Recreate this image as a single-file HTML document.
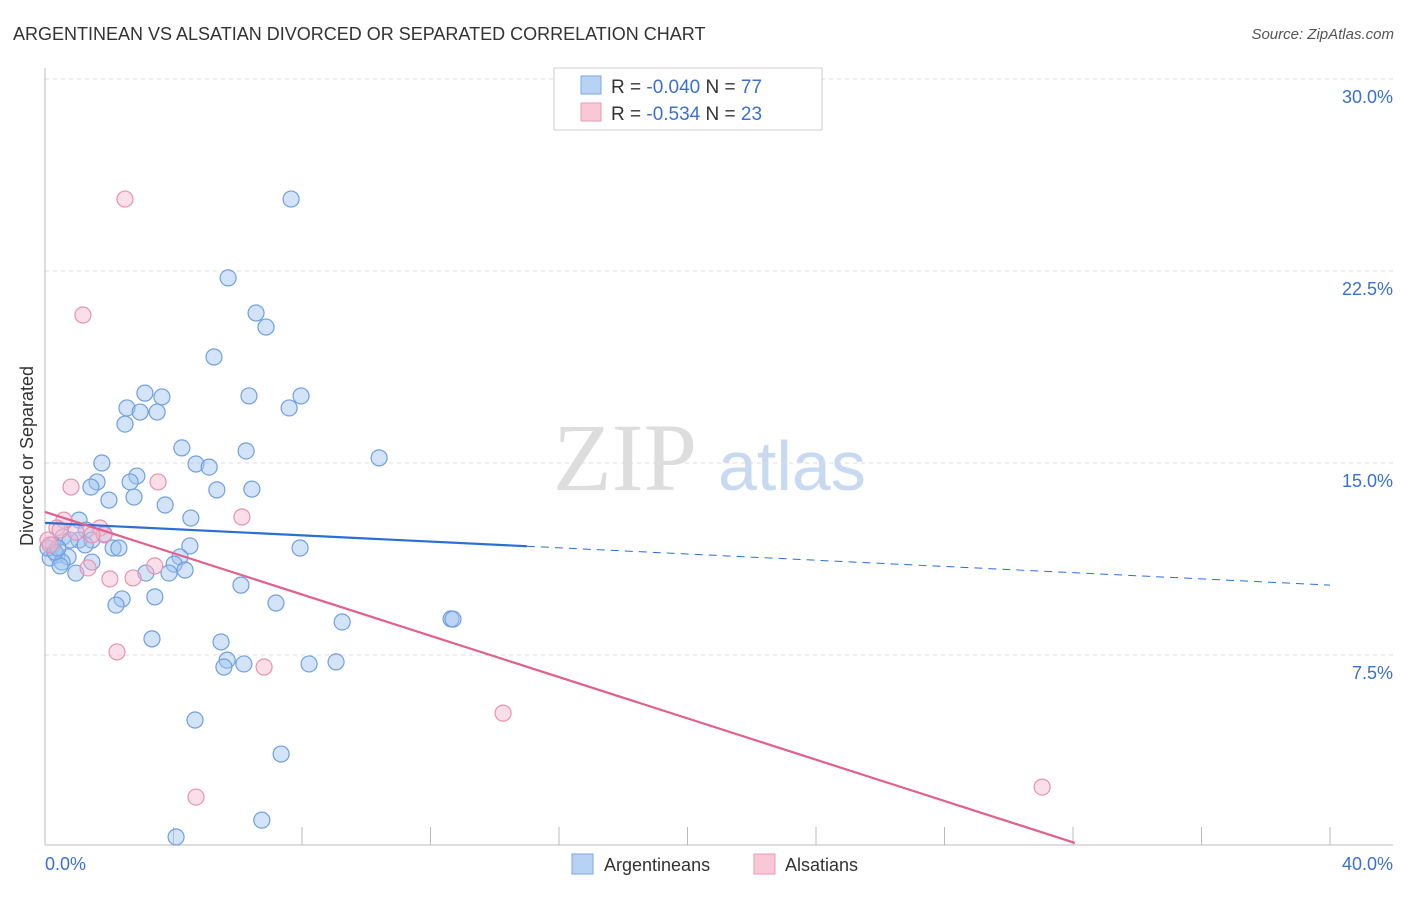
<!DOCTYPE html>
<html><head><meta charset="utf-8"><style>
body{margin:0;background:#fff;font-family:"Liberation Sans",sans-serif}
</style></head><body>
<svg width="1406" height="892" xmlns="http://www.w3.org/2000/svg" style="font-family:'Liberation Sans',sans-serif">
<text x="13" y="40" font-size="18" fill="#333">ARGENTINEAN VS ALSATIAN DIVORCED OR SEPARATED CORRELATION CHART</text>
<text x="1394" y="39" font-size="15" fill="#555" text-anchor="end" font-style="italic">Source: ZipAtlas.com</text>
<g>
<text x="553" y="490" font-size="96" fill="#ddd" font-family="Liberation Serif,serif">ZIP</text>
<text x="718" y="490" font-size="70" fill="#c8daf2">atlas</text>
</g>
<g id="grid"></g>
<line x1="45" y1="68" x2="45" y2="845" stroke="#bbb"/>
<line x1="45" y1="845" x2="1393" y2="845" stroke="#bbb"/>
<g id="xticks"></g>
<text x="45" y="870" font-size="18" fill="#3a70d0">0.0%</text>
<text x="1393" y="870" font-size="18" fill="#3a70d0" text-anchor="end">40.0%</text>
<text transform="translate(33,456) rotate(-90)" font-size="18" fill="#333" text-anchor="middle">Divorced or Separated</text>
<g id="pts"></g>
<g id="lines"></g>
<g>
<rect x="554" y="68" width="268" height="62" fill="#fff" stroke="#ccc"/>
<rect x="581" y="76" width="20" height="18" fill="#b8d2f4" stroke="#7aa6e0"/>
<rect x="581" y="103" width="20" height="18" fill="#f8c8d6" stroke="#e898b4"/>
<text x="611" y="93" font-size="19" fill="#333">R = <tspan fill="#3a70d0">-0.040</tspan>   N = <tspan fill="#3a70d0">77</tspan></text>
<text x="611" y="120" font-size="19" fill="#333">R =  <tspan fill="#3a70d0">-0.534</tspan>   N = <tspan fill="#3a70d0">23</tspan></text>
</g>
<g>
<rect x="572" y="854" width="21" height="20" fill="#b8d2f4" stroke="#7aa6e0"/>
<text x="604" y="871" font-size="18" fill="#333">Argentineans</text>
<rect x="754" y="854" width="21" height="20" fill="#f8c8d6" stroke="#e898b4"/>
<text x="785" y="871" font-size="18" fill="#333">Alsatians</text>
</g>
</svg>
<script>
const yTicks=[7.5,15,22.5,30];
const blueX=[7.66,5.70,6.57,6.88,5.26,3.11,3.64,6.35,7.97,2.55,2.96,3.49,7.60,2.49,4.26,6.26,10.40,1.77,4.70,5.11,2.86,1.62,2.65,1.43,5.35,6.44,1.99,2.77,3.74,1.06,4.54,1.28,1.84,0.56,1.06,1.46,0.25,2.12,2.30,4.51,7.94,0.37,0.72,4.20,0.16,0.53,1.46,4.02,0.47,0.96,3.14,3.86,4.36,6.10,3.42,2.40,2.21,7.19,12.64,9.25,3.33,5.48,5.67,5.57,6.19,8.22,9.06,4.67,7.35,6.75,4.08,0.09,0.31,0.78,1.25,0.40,12.7];
const blueY=[25.31,22.23,20.86,20.31,19.14,17.73,17.58,17.62,17.62,17.15,16.99,16.99,17.15,16.52,15.59,15.47,15.20,15.0,14.96,14.84,14.49,14.26,14.26,14.06,13.95,13.98,13.55,13.67,13.36,12.77,12.85,12.38,12.23,12.11,11.99,11.99,11.80,11.68,11.68,11.76,11.68,11.41,11.33,11.33,11.29,11.13,11.13,11.05,10.98,10.70,10.70,10.70,10.82,10.23,9.77,9.69,9.45,9.53,8.91,8.79,8.13,8.01,7.30,7.03,7.15,7.15,7.23,4.96,3.63,1.05,0.39,11.68,11.52,11.99,11.80,11.68,8.9];
const pinkX=[2.49,1.18,0.81,3.52,6.13,0.59,0.37,1.71,0.96,1.84,0.09,1.34,2.02,2.74,3.42,2.24,6.82,14.26,4.70,31.04,0.16,0.47,1.46];
const pinkY=[25.31,20.78,14.06,14.26,12.89,12.77,12.46,12.46,12.30,12.19,11.99,10.90,10.47,10.51,10.98,7.62,7.03,5.23,1.95,2.34,11.80,12.38,12.19];
const blueTrend=[12.66,10.23]; // y at x=0 and x=40
const blueSolidEnd=15;
const pinkTrend=[13.09,0.16]; // y at x=0 and x=32.06
const pinkEnd=32.06;
const NS="http://www.w3.org/2000/svg";
const sx=v=>45+v*32.125, sy=v=>847-v*25.6;
function mk(t,a,p){const e=document.createElementNS(NS,t);for(const k in a)e.setAttribute(k,a[k]);p.appendChild(e);return e;}
const grid=document.getElementById('grid');
yTicks.forEach(t=>{
 const l=mk('line',{x1:45,x2:1393,y1:sy(t),y2:sy(t),stroke:'#ddd','stroke-dasharray':'4,4'},grid);
 
 
 const tx=mk('text',{x:1393,y:sy(t)+24,'font-size':18,fill:'#3a70d0','text-anchor':'end'},grid);
 tx.textContent=t.toFixed(1)+'%';
 
 
});
const xt=document.getElementById('xticks');
for(let i=1;i<=10;i++){const l=mk('line',{x1:sx(i*4),x2:sx(i*4),y1:827,y2:845,stroke:'#bbb'},xt);
 
 }
const pts=document.getElementById('pts');
blueX.forEach((x,i)=>{const c=mk('circle',{cx:sx(x),cy:sy(blueY[i]),r:8,fill:'rgba(160,196,240,0.45)',stroke:'#6f9fe0','stroke-width':1.2},pts);
 
 });
pinkX.forEach((x,i)=>{const c=mk('circle',{cx:sx(x),cy:sy(pinkY[i]),r:8,fill:'rgba(246,184,204,0.45)',stroke:'#e892b2','stroke-width':1.2},pts);
 
 });
const ln=document.getElementById('lines');
const by=x=>blueTrend[0]+(blueTrend[1]-blueTrend[0])*x/40;
let l1=mk('line',{x1:sx(0),y1:sy(by(0)),x2:sx(blueSolidEnd),y2:sy(by(blueSolidEnd)),stroke:'#2a6fd6','stroke-width':2.2},ln);


let l2=mk('line',{x1:sx(blueSolidEnd),y1:sy(by(blueSolidEnd)),x2:sx(40),y2:sy(by(40)),stroke:'#2a6fd6','stroke-width':1,'stroke-dasharray':'8,6'},ln);


let l3=mk('line',{x1:sx(0),y1:sy(pinkTrend[0]),x2:sx(pinkEnd),y2:sy(pinkTrend[1]),stroke:'#e0608e','stroke-width':2.2},ln);


</script>
</body></html>
